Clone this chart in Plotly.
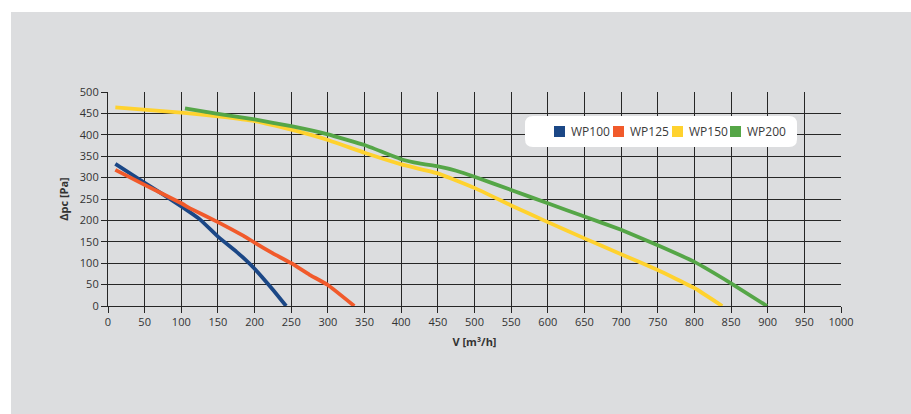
import plotly.graph_objects as go

# Data
wp100_v = [10, 50, 100, 125, 150, 175, 187, 200, 225, 243]
wp100_p = [332, 288, 233, 203, 162, 127, 109, 87, 38, 0]

wp125_v = [10, 50, 100, 112, 150, 185, 200, 225, 250, 275, 300, 336]
wp125_p = [318, 283, 240, 228, 196, 164, 148, 123, 100, 73, 49, 0]

wp150_v = [10, 100, 150, 200, 250, 300, 350, 400, 450, 500, 550, 600, 650, 700, 750, 800, 838]
wp150_p = [464, 452, 443, 432, 412, 388, 358, 331, 310, 276, 235, 196, 158, 121, 84, 42, 0]

wp200_v = [105, 150, 200, 250, 300, 350, 400, 425, 450, 475, 500, 550, 600, 650, 700, 750, 800, 850, 899]
wp200_p = [462, 449, 436, 420, 401, 376, 343, 333, 326, 316, 302, 271, 240, 209, 178, 142, 103, 53, 0]

series_names = ["WP100", "WP125", "WP150", "WP200"]
series_colors = ["#1b4786", "#f15a2b", "#ffd22e", "#55a647"]
series_v = [wp100_v, wp125_v, wp150_v, wp200_v]
series_p = [wp100_p, wp125_p, wp150_p, wp200_p]

x_ticks = list(range(0, 1001, 50))
y_ticks = list(range(0, 501, 50))

fig = go.Figure()
for name, col, v, p in zip(series_names, series_colors, series_v, series_p):
    fig.add_trace(go.Scatter(x=v, y=p, mode="lines", name=name,
                             line=dict(color=col, width=3.8, shape="spline", smoothing=0.3),
                             showlegend=False, hoverinfo="skip"))

W, H = 911, 414
L, R, T, B = 108, 70, 92, 108
pw, ph = W - L - R, H - T - B

def px(x):
    return (x - L) / pw

def py(y):
    return (H - B - y) / ph

# rounded legend box
x0, x1, y0, y1, r = 525, 797, 116, 147, 8
rx, ry = r / pw, r / ph
X0, X1, Y0, Y1 = px(x0), px(x1), py(y1), py(y0)
path = (f"M {X0+rx},{Y0} L {X1-rx},{Y0} Q {X1},{Y0} {X1},{Y0+ry} L {X1},{Y1-ry} Q {X1},{Y1} {X1-rx},{Y1} "
        f"L {X0+rx},{Y1} Q {X0},{Y1} {X0},{Y1-ry} L {X0},{Y0+ry} Q {X0},{Y0} {X0+rx},{Y0} Z")

shapes = [
    dict(type="rect", xref="paper", yref="paper", x0=px(0) - 0.1, x1=px(W) + 0.1, y0=py(12), y1=py(0) + 0.1,
         fillcolor="white", line=dict(width=0), layer="below"),
    dict(type="rect", xref="paper", yref="paper", x0=px(0) - 0.1, x1=px(11), y0=py(W), y1=py(0) + 0.1,
         fillcolor="white", line=dict(width=0), layer="below"),
    dict(type="path", xref="paper", yref="paper", path=path, fillcolor="white", line=dict(width=0), layer="above"),
]

annotations = []
key_left = [554, 613, 672, 730]
key_cy = 131.5
for name, col, kx in zip(series_names, series_colors, key_left):
    shapes.append(dict(type="rect", xref="paper", yref="paper",
                       x0=px(kx), x1=px(kx + 11), y0=py(key_cy + 5.5), y1=py(key_cy - 5.5),
                       fillcolor=col, line=dict(width=0), layer="above"))
    annotations.append(dict(xref="paper", yref="paper", x=px(kx + 15), y=py(key_cy), text=name,
                            showarrow=False, xanchor="left", yanchor="middle",
                            font=dict(size=12, color="#3a3a3a")))

font = "Open Sans, Lato, sans-serif"
fig.update_layout(
    width=W, height=H,
    margin=dict(l=L, r=R, t=T, b=B),
    paper_bgcolor="#dcdddf", plot_bgcolor="#dcdddf",
    font=dict(family=font, size=11, color="#333333"),
    shapes=shapes,
    annotations=annotations,
    showlegend=False,
    xaxis=dict(range=[0, 1000], tickvals=x_ticks, ticktext=[str(t) for t in x_ticks],
               showgrid=True, gridcolor="#262626", gridwidth=1.2, zeroline=False,
               ticks="outside", ticklen=6, tickcolor="#262626", tickangle=0,
               showline=True, linecolor="#262626", linewidth=1.2,
               title=dict(text="<b>V [m³/h]</b>", font=dict(size=11, color="#333333"), standoff=10)),
    yaxis=dict(range=[0, 500], tickvals=y_ticks, ticktext=[str(t) for t in y_ticks],
               showgrid=True, gridcolor="#262626", gridwidth=1.2, zeroline=False,
               ticks="outside", ticklen=6, tickcolor="#262626",
               showline=True, linecolor="#262626", linewidth=1.2,
               title=dict(text="<b>Δpc [Pa]</b>", font=dict(size=11, color="#333333"), standoff=8)),
)

fig.write_html("out.html", config={"displayModeBar": False},
               post_script="document.body.style.margin='0';")
